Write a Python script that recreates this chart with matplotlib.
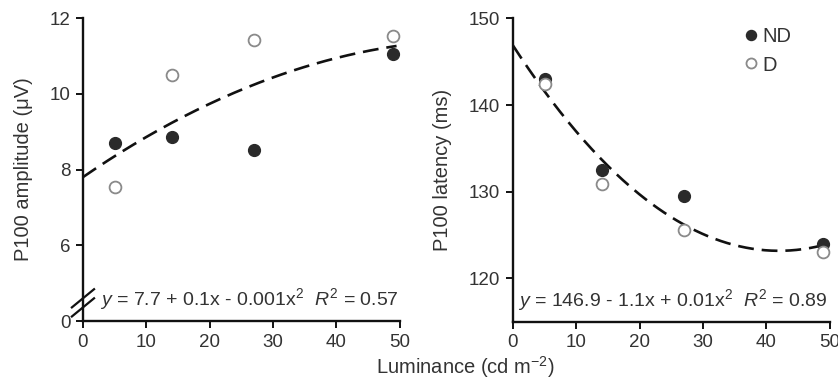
import numpy as np
import matplotlib
matplotlib.use("Agg")
from matplotlib import pyplot as plt

plt.rcParams['font.family'] = ['Liberation Sans', 'DejaVu Sans']
plt.rcParams['mathtext.fontset'] = 'custom'
plt.rcParams['mathtext.rm'] = 'Liberation Sans'
plt.rcParams['mathtext.it'] = 'Liberation Sans:italic'
plt.rcParams['font.size'] = 13

# luminance levels (cd m-2)
lum = [5, 14, 27, 49]

# P100 amplitude (uV)
amp_nd = [8.7, 8.87, 8.51, 11.05]
amp_d = [7.54, 10.5, 11.42, 11.53]
amp_fit = [-0.00091, 0.115, 7.8]      # quadratic coefficients, highest power first

# P100 latency (ms)
lat_nd = [143.0, 132.5, 129.5, 124.0]
lat_d = [142.4, 130.85, 125.6, 123.0]
lat_fit = [0.01344, -1.129, 146.9]

amp_ticks = [4, 6, 8, 10, 12]
amp_ticklabels = ['0', '6', '8', '10', '12']
lat_ticks = [120, 130, 140, 150]
x_ticks = [0, 10, 20, 30, 40, 50]

txt = '#333333'
fill = '#2a2a2a'
hollow = '#8a8a8a'

fig = plt.figure(figsize=(8.38, 3.84), dpi=100)
ax1 = fig.add_axes([0.099, 0.164, 0.378, 0.789])
ax2 = fig.add_axes([0.612, 0.162, 0.378, 0.79])

xs = np.linspace(0, 49.5, 200)

def style(ax):
    for s in ['top', 'right']:
        ax.spines[s].set_visible(False)
    for s in ['left', 'bottom']:
        ax.spines[s].set_linewidth(1.7)
        ax.spines[s].set_color('#111111')
    ax.tick_params(direction='out', length=5, width=1.4, colors='#111111',
                   labelcolor=txt, labelsize=13.5, pad=4)
    ax.set_xlim(0, 50)
    ax.set_xticks(x_ticks)

# left panel
style(ax1)
ax1.plot(xs, np.polyval(amp_fit, xs), color='#111111', lw=1.9, ls=(0, (6, 3)), zorder=2)
ax1.plot(lum, amp_nd, 'o', ms=8.5, color=fill, mec=fill, zorder=3)
ax1.plot(lum, amp_d, 'o', ms=8.5, mfc='white', mec=hollow, mew=1.3, zorder=3)
ax1.set_ylim(4, 12)
ax1.set_yticks(amp_ticks)
ax1.set_yticklabels(amp_ticklabels)
ax1.set_ylabel('P100 amplitude (μV)', color=txt, fontsize=14.5, labelpad=12)
ax1.text(0.995, 0.03, r'$\mathit{y}$ = 7.7 + 0.1x - 0.001x$^2$  $\mathit{R}^2$ = 0.57',
         transform=ax1.transAxes, ha='right', va='bottom', color=txt, fontsize=14)
# axis break marks
for dy in [0.0, 0.03]:
    ax1.plot([-0.035, 0.035], [0.015 + dy, 0.075 + dy], transform=ax1.transAxes,
             color='#111111', lw=1.6, clip_on=False, zorder=5)

# right panel
style(ax2)
ax2.plot(xs, np.polyval(lat_fit, xs), color='#111111', lw=1.9, ls=(0, (6, 3)), zorder=2)
ax2.plot(lum, lat_nd, 'o', ms=8.5, color=fill, mec=fill, zorder=3, label='ND')
ax2.plot(lum, lat_d, 'o', ms=8.5, mfc='white', mec=hollow, mew=1.3, zorder=3, label='D')
ax2.set_ylim(115, 150)
ax2.set_yticks(lat_ticks)
ax2.set_ylabel('P100 latency (ms)', color=txt, fontsize=14.5, labelpad=12)
ax2.text(0.995, 0.03, r'$\mathit{y}$ = 146.9 - 1.1x + 0.01x$^2$  $\mathit{R}^2$ = 0.89',
         transform=ax2.transAxes, ha='right', va='bottom', color=txt, fontsize=14)
leg = ax2.legend(loc='upper left', bbox_to_anchor=(0.67, 1.03), frameon=False,
                 handletextpad=0.15, handlelength=0.8, labelspacing=0.45, fontsize=14.5,
                 markerscale=0.85)
for t in leg.get_texts():
    t.set_color(txt)

fig.text(0.555, 0.01, 'Luminance (cd m$^{-2}$)', ha='center', va='bottom',
         color=txt, fontsize=14.5)

fig.savefig('out.png', dpi=100)
